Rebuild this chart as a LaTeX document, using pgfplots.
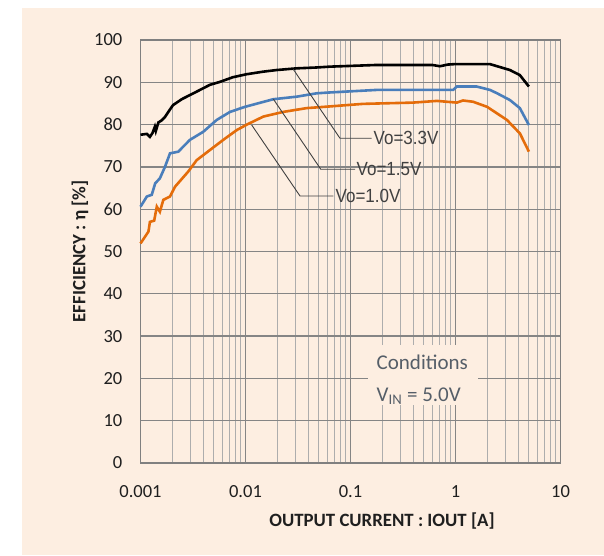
\documentclass[border=0pt]{standalone}
\usepackage{fontspec}
\setmainfont{Carlito}
\newfontfamily\arialfont{Liberation Sans}
\usepackage{pgfplots}
\pgfplotsset{compat=1.18}
\definecolor{bgbeige}{RGB}{253,238,225}
\definecolor{cblue}{RGB}{74,126,187}
\definecolor{corange}{RGB}{228,108,10}
\definecolor{txtgray}{RGB}{64,64,64}
\definecolor{condgray}{RGB}{85,94,104}
\begin{document}
\begin{tikzpicture}
\path[use as bounding box] (-140.5pt,-92pt) rectangle (463.5pt,463pt);
\fill[bgbeige] (-118.5pt,-92pt) rectangle (463.5pt,455pt);
\begin{axis}[
  at={(0pt,0pt)}, anchor=south west,
  scale only axis, width=420pt, height=423pt,
  xmode=log, xmin=0.001, xmax=10, ymin=0, ymax=100,
  xtick={0.001,0.01,0.1,1,10},
  xticklabels={0.001,0.01,0.1,1,10},
  ytick={0,10,...,100},
  xmajorgrids=true, xminorgrids=true, ymajorgrids=true,
  major tick length=0pt, minor tick length=0pt,
  major grid style={draw=black!48, line width=1.3pt},
  minor grid style={draw=black!32, line width=1.1pt},
  axis line style={draw=black!50, line width=1.5pt},
  /pgf/number format/assume math mode=true,
  tick label style={font=\fontsize{18.5}{20}\selectfont, text=black!88},
  yticklabel style={anchor=east, inner sep=0pt, xshift=-18pt},
  xticklabel style={anchor=north, inner sep=0pt, yshift=-22pt},
  xlabel={OUTPUT CURRENT : IOUT [A]},
  ylabel={EFFICIENCY : η [\%]},
  label style={font=\bfseries\fontsize{18.8}{20}\selectfont, text=black!88},
  xlabel style={at={(axis description cs:0.575,-0.137)}, anchor=center},
  ylabel style={at={(axis description cs:-0.144,0.5)}, anchor=center},
  clip=false,
]
\addplot[black, line width=2.6pt] coordinates {
(0.001,77.6)(0.00115,77.8)(0.00123,77.1)(0.0013,78.0)(0.00137,79.5)(0.0014,78.5)
(0.00148,80.5)(0.00159,81.0)(0.00171,81.8)(0.0019,83.5)(0.00204,84.6)(0.00247,86.0)
(0.00343,87.8)(0.00458,89.4)(0.00571,90.1)(0.00758,91.2)(0.0102,91.9)(0.0146,92.5)
(0.0198,92.9)(0.0307,93.3)(0.0474,93.5)(0.0636,93.7)(0.178,94.1)(0.6,94.1)
(0.71,93.8)(0.85,94.2)(0.99,94.3)(2.13,94.3)(3.3,92.9)(4.1,91.7)(5.0,89.0)};
\addplot[cblue, line width=2.6pt] coordinates {
(0.001,60.6)(0.00115,63.0)(0.00128,63.4)(0.00138,66.1)(0.00153,67.3)(0.00171,70.0)
(0.00191,73.2)(0.00229,73.6)(0.00296,76.4)(0.00396,78.3)(0.00532,81.1)(0.00712,83.0)
(0.00989,84.2)(0.0184,86.0)(0.0307,86.6)(0.0476,87.4)(0.0638,87.6)(0.178,88.2)
(0.95,88.2)(1.03,89.0)(1.59,89.0)(2.13,88.2)(2.49,87.4)(3.3,85.8)(4.1,83.9)(5.0,79.9)};
\addplot[corange, line width=2.6pt] coordinates {
(0.001,51.9)(0.00119,54.7)(0.00123,57.0)(0.00135,57.3)(0.00143,60.6)(0.00153,59.4)
(0.00165,62.2)(0.00191,63.0)(0.00213,65.3)(0.00285,68.9)(0.00343,71.6)(0.00459,74.0)
(0.00615,76.4)(0.00825,78.7)(0.0103,80.0)(0.0148,81.9)(0.0229,83.0)(0.0383,83.9)
(0.0638,84.3)(0.1315,84.9)(0.394,85.2)(0.666,85.6)(1.03,85.2)(1.18,85.7)(1.47,85.4)
(2.0,84.2)(3.09,81.1)(4.11,77.9)(5.0,73.6)};
\end{axis}
% leader lines and labels
\draw[txtgray, line width=0.9pt] (152.8pt,393.7pt) -- (199.5pt,324.7pt) -- (231.2pt,324.7pt);
\draw[txtgray, line width=0.9pt] (132.8pt,364pt) -- (180.3pt,293.7pt) -- (214.5pt,293.7pt);
\draw[txtgray, line width=0.9pt] (111.2pt,338pt) -- (159.5pt,267pt) -- (192.8pt,267pt);
\node[anchor=west, inner sep=0pt, text=txtgray, yscale=1.12, transform shape, font=\arialfont\fontsize{17}{18}\selectfont] at (233pt,324.7pt) {Vo=3.3V};
\node[anchor=west, inner sep=0pt, text=txtgray, yscale=1.12, transform shape, font=\arialfont\fontsize{17}{18}\selectfont] at (216pt,293.7pt) {Vo=1.5V};
\node[anchor=west, inner sep=0pt, text=txtgray, yscale=1.12, transform shape, font=\arialfont\fontsize{17}{18}\selectfont] at (195pt,267pt) {Vo=1.0V};
% conditions box
\fill[bgbeige] (227.5pt,58pt) rectangle (337.5pt,118pt);
\node[anchor=base west, inner sep=0pt, text=condgray, font=\fontsize{21}{24}\selectfont] at (236pt,94pt) {Conditions};
\node[anchor=base west, inner sep=0pt, text=condgray, font=\fontsize{21}{24}\selectfont] at (236pt,61.3pt) {V\textsubscript{IN} = 5.0V};
\end{tikzpicture}
\end{document}
